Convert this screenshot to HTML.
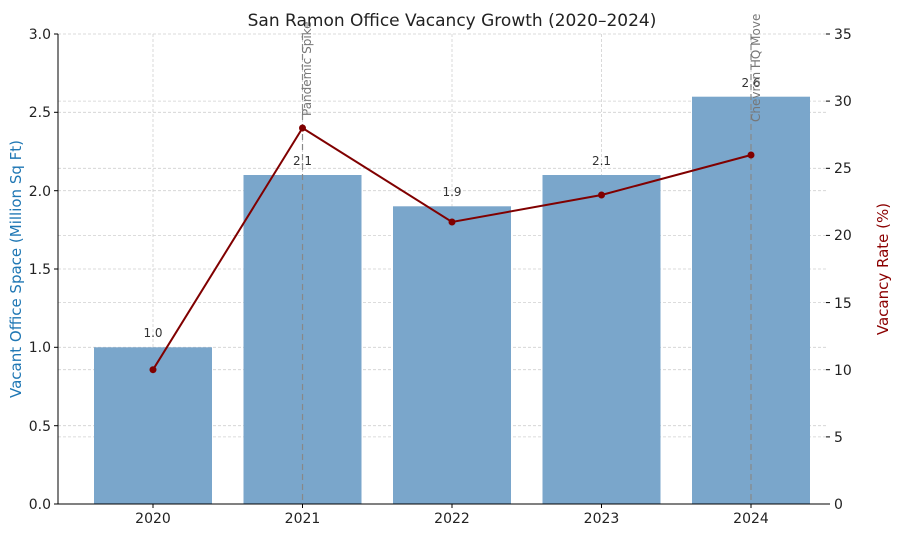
<!DOCTYPE html>
<html><head><meta charset="utf-8"><style>html,body{margin:0;padding:0;background:#fff}svg{display:block}</style></head><body>
<svg width="900" height="533" xmlns="http://www.w3.org/2000/svg" font-family="DejaVu Sans, Liberation Sans, sans-serif">
<rect width="900" height="533" fill="#fff"/>
<g stroke="#d0d0d0" stroke-width="0.8" stroke-dasharray="3,2">
<line x1="58" x2="826" y1="34" y2="34"/><line x1="58" x2="826" y1="112.3" y2="112.3"/><line x1="58" x2="826" y1="190.7" y2="190.7"/><line x1="58" x2="826" y1="269" y2="269"/><line x1="58" x2="826" y1="347.3" y2="347.3"/><line x1="58" x2="826" y1="425.7" y2="425.7"/>
<line x1="58" x2="826" y1="101.1" y2="101.1"/><line x1="58" x2="826" y1="168.3" y2="168.3"/><line x1="58" x2="826" y1="235.4" y2="235.4"/><line x1="58" x2="826" y1="302.6" y2="302.6"/><line x1="58" x2="826" y1="369.7" y2="369.7"/><line x1="58" x2="826" y1="436.9" y2="436.9"/>
<line x1="153" x2="153" y1="34" y2="504"/><line x1="302.5" x2="302.5" y1="34" y2="504"/><line x1="452" x2="452" y1="34" y2="504"/><line x1="601.5" x2="601.5" y1="34" y2="504"/><line x1="751" x2="751" y1="34" y2="504"/>
</g>
<g fill="#7aa6cb">
<rect x="94" y="347.3" width="118" height="156.7"/>
<rect x="243.5" y="175" width="118" height="329"/>
<rect x="393" y="206.3" width="118" height="297.7"/>
<rect x="542.5" y="175" width="118" height="329"/>
<rect x="692" y="96.7" width="118" height="407.3"/>
</g>
<g font-size="12" fill="#333" text-anchor="middle">
<text x="153" y="337">1.0</text><text x="302.5" y="165">2.1</text><text x="452" y="196">1.9</text><text x="601.5" y="165">2.1</text><text x="751" y="87">2.6</text>
</g>
<g stroke="#888" stroke-width="1.2" stroke-dasharray="6,4">
<line x1="302.5" x2="302.5" y1="34" y2="504"/><line x1="751" x2="751" y1="34" y2="504"/>
</g>
<g font-size="12" fill="#777">
<text transform="translate(311,116) rotate(-90)">Pandemic Spike</text>
<text transform="translate(760,122) rotate(-90)">Chevron HQ Move</text>
</g>
<polyline points="153,369.7 302.5,128 452,222 601.5,195 751,155" fill="none" stroke="#800000" stroke-width="2"/>
<g fill="#800000"><circle cx="153" cy="369.7" r="3.5"/><circle cx="302.5" cy="128" r="3.5"/><circle cx="452" cy="222" r="3.5"/><circle cx="601.5" cy="195" r="3.5"/><circle cx="751" cy="155" r="3.5"/></g>
<g stroke="#000" stroke-width="1"><line x1="58" x2="58" y1="34" y2="504"/><line x1="58" x2="826" y1="504" y2="504"/></g>
<g stroke="#000"><line x1="54" x2="58" y1="34" y2="34"/><line x1="54" x2="58" y1="112.3" y2="112.3"/><line x1="54" x2="58" y1="190.7" y2="190.7"/><line x1="54" x2="58" y1="269" y2="269"/><line x1="54" x2="58" y1="347.3" y2="347.3"/><line x1="54" x2="58" y1="425.7" y2="425.7"/><line x1="54" x2="58" y1="504" y2="504"/>
<line x1="826" x2="830" y1="34" y2="34"/><line x1="826" x2="830" y1="101.1" y2="101.1"/><line x1="826" x2="830" y1="168.3" y2="168.3"/><line x1="826" x2="830" y1="235.4" y2="235.4"/><line x1="826" x2="830" y1="302.6" y2="302.6"/><line x1="826" x2="830" y1="369.7" y2="369.7"/><line x1="826" x2="830" y1="436.9" y2="436.9"/><line x1="826" x2="830" y1="504" y2="504"/>
<line x1="153" x2="153" y1="504" y2="508"/><line x1="302.5" x2="302.5" y1="504" y2="508"/><line x1="452" x2="452" y1="504" y2="508"/><line x1="601.5" x2="601.5" y1="504" y2="508"/><line x1="751" x2="751" y1="504" y2="508"/></g>
<g font-size="14" fill="#222" text-anchor="end">
<text x="51" y="39">3.0</text><text x="51" y="117">2.5</text><text x="51" y="196">2.0</text><text x="51" y="274">1.5</text><text x="51" y="352">1.0</text><text x="51" y="431">0.5</text><text x="51" y="509">0.0</text></g>
<g font-size="14" fill="#222">
<text x="834" y="39">35</text><text x="834" y="106">30</text><text x="834" y="173">25</text><text x="834" y="240">20</text><text x="834" y="308">15</text><text x="834" y="375">10</text><text x="834" y="442">5</text><text x="834" y="509">0</text></g>
<g font-size="14" fill="#222" text-anchor="middle">
<text x="153" y="523">2020</text><text x="302.5" y="523">2021</text><text x="452" y="523">2022</text><text x="601.5" y="523">2023</text><text x="751" y="523">2024</text></g>
<text x="452" y="26" font-size="17" fill="#222" text-anchor="middle">San Ramon Office Vacancy Growth (2020–2024)</text>
<text transform="translate(21,269) rotate(-90)" font-size="15" fill="#1f77b4" text-anchor="middle">Vacant Office Space (Million Sq Ft)</text>
<text transform="translate(888,269) rotate(-90)" font-size="15" fill="#8b0000" text-anchor="middle">Vacancy Rate (%)</text>
</svg>
</body></html>
